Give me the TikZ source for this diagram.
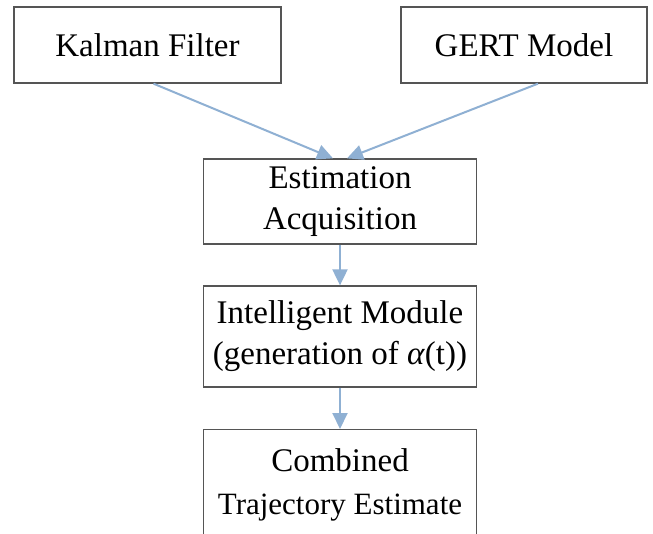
\documentclass[tikz,border=0pt]{standalone}
\usepackage{fontspec}
\setmainfont{Liberation Serif}
\usetikzlibrary{arrows.meta}

\tikzset{
  blockbox/.style={draw=boxgray, line width=1.3pt, fill=white, align=center,
    inner sep=0pt, font=\fontsize{33}{41}\selectfont},
  flow/.style={draw=arrowblue, line width=2pt,
    -{Triangle[length=16pt,width=15pt,fill=arrowblue]}}
}

\begin{document}
\begin{tikzpicture}[x=1pt,y=-1pt]
            \definecolor{boxgray}{RGB}{85, 85, 85}
            \definecolor{arrowblue}{RGB}{143, 176, 211}

            \clip (0,0) rectangle (653,533);
            \fill[white] (0,0) rectangle (653,533);

            \node[blockbox, minimum width=267pt, minimum height=76pt] (kalman) at (147.5,45) {Kalman Filter};
            \node[blockbox, minimum width=246pt, minimum height=76pt] (gert) at (524,45) {GERT Model};
            \node[blockbox, minimum width=273pt, minimum height=85pt] (est) at (340,201.5) {Estimation\\Acquisition};
            \node[blockbox, minimum width=273pt, minimum height=101pt] (intel) at (340,336.5) {Intelligent Module\\(generation of \textit{α}(t))};
            \node[blockbox, minimum width=273pt, minimum height=110pt, anchor=north] (comb) at (340,429) {Combined\\[2pt]{\fontsize{31}{38}\selectfont Trajectory Estimate}};

            \draw[flow] ([xshift=6pt]kalman.south) -- ([xshift=-7pt]est.north);
            \draw[flow] ([xshift=14pt]gert.south) -- ([xshift=7pt]est.north);
            \draw[flow] (est) -- (intel);
            \draw[flow] (intel) -- (comb);
        \end{tikzpicture}
\end{document}
